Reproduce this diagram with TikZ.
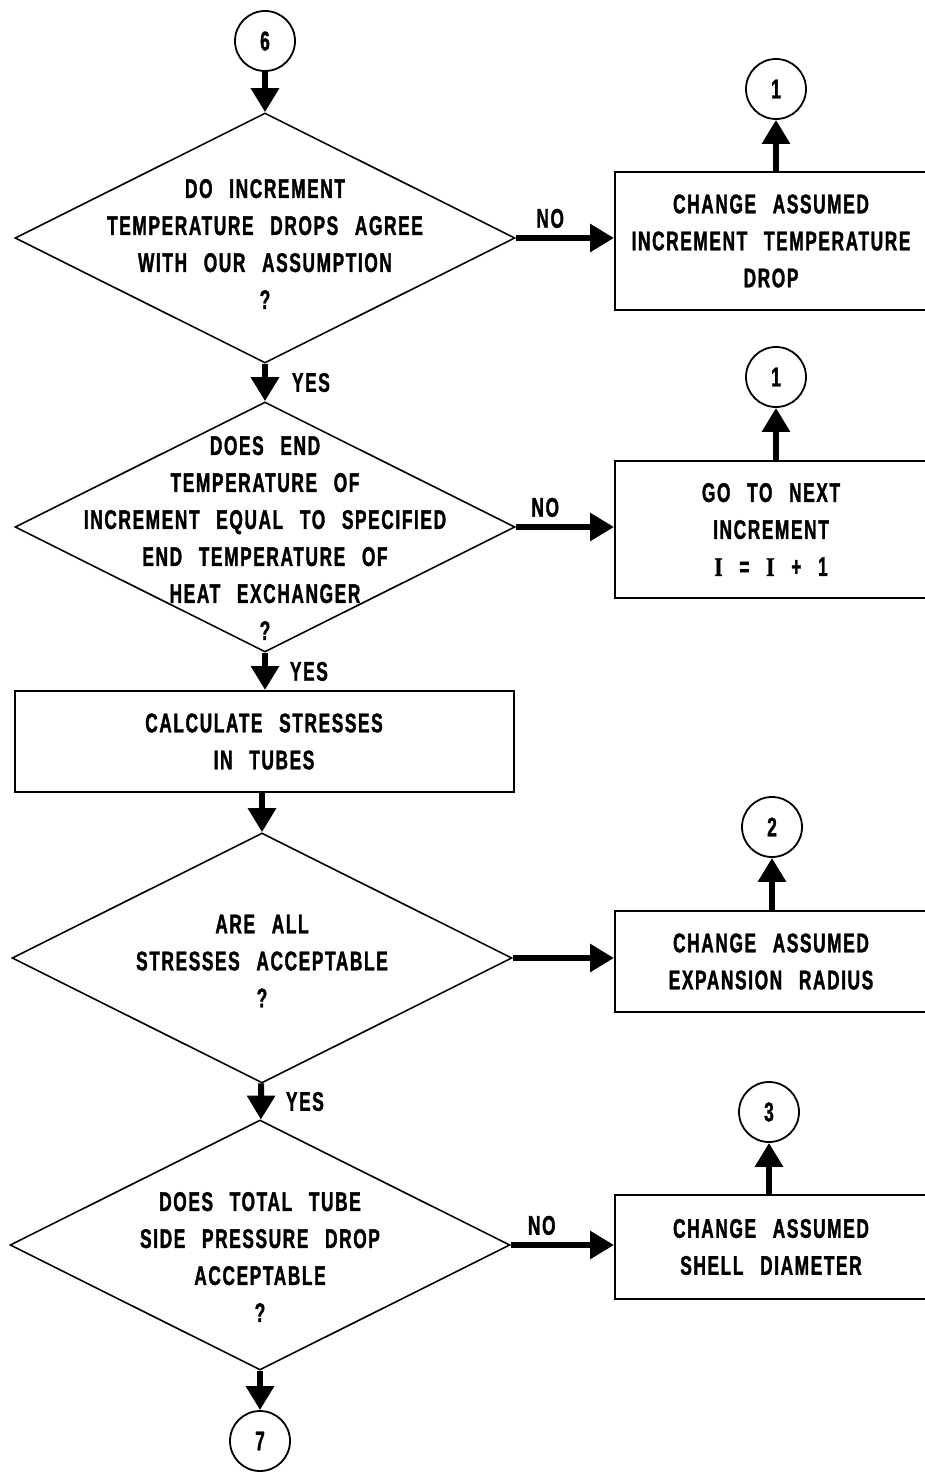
\documentclass[tikz,border=0pt]{standalone}
\usepackage{fontspec}
\usepackage{tikz}
\usetikzlibrary{shapes.geometric,arrows.meta}
\newfontfamily\flowfont{Liberation Sans}[FakeStretch=0.64,LetterSpace=6,WordSpace=2.6,BoldFeatures={FakeBold=1.3}]
\newfontfamily\flowserif{Liberation Serif}[FakeStretch=0.8,BoldFeatures={FakeBold=1.3}]

\begin{document}
\begin{tikzpicture}
	[x=1pt,y=-1pt,
	every node/.style={font=\fontsize{27}{37}\selectfont\flowfont\bfseries,align=center,inner sep=0pt},
	dec/.style={draw,line width=1.6pt,shape=diamond,minimum width=500pt,minimum height=250pt},
	box/.style={draw,line width=2pt,rectangle,minimum width=312pt},
	conn/.style={draw,line width=1.8pt,circle,minimum size=60pt},
	flow/.style={line width=6pt,-{Triangle[length=24pt,width=27pt]}}]
	\useasboundingbox (0,0) rectangle (924,1472);
	\node[conn] (c6) at (265,41) {6};
	\node[dec] (d1) at (265,238) {};
	\node (q1) at (265,244) {DO INCREMENT\\TEMPERATURE DROPS AGREE\\WITH OUR ASSUMPTION\\?};
	\node[box,minimum height=138pt] (b1) at (771,241) {CHANGE ASSUMED\\INCREMENT TEMPERATURE\\DROP};
	\node[conn] (c1a) at (776,89) {1};
	\node[dec] (d2) at (265,527) {};
	\node (q2) at (265,538) {DOES END\\TEMPERATURE OF\\INCREMENT EQUAL TO SPECIFIED\\END TEMPERATURE OF\\HEAT EXCHANGER\\?};
	\node[box,minimum height=137pt] (b2) at (771,529.5) {GO TO NEXT\\INCREMENT\\{\flowserif I} = {\flowserif I} + 1};
	\node[conn] (c1b) at (776,377) {1};
	\node[box,minimum width=499pt,minimum height=101pt] (b0) at (264,741.5) {CALCULATE STRESSES\\IN TUBES};
	\node[dec] (d3) at (262,958) {};
	\node (q3) at (262,961) {ARE ALL\\STRESSES ACCEPTABLE\\?};
	\node[box,minimum height=101pt] (b3) at (771,961.5) {CHANGE ASSUMED\\EXPANSION RADIUS};
	\node[conn] (c2) at (772,827) {2};
	\node[dec] (d4) at (260,1245) {};
	\node (q4) at (260,1257) {DOES TOTAL TUBE\\SIDE PRESSURE DROP\\ACCEPTABLE\\?};
	\node[box,minimum height=104pt] (b4) at (771,1247) {CHANGE ASSUMED\\SHELL DIAMETER};
	\node[conn] (c3) at (769,1112) {3};
	\node[conn] (c7) at (260,1441) {7};
	\draw[flow] (c6) -- (d1);
	\draw[flow] (d1.east) -- (d1.east -| b1.west) node[pos=0.35,above=7pt] {NO};
	\draw[flow] (c1a |- b1.north) -- (c1a);
	\draw[flow] (d1) -- (d2) node[midway,right=24pt] {YES};
	\draw[flow] (d2.east) -- (d2.east -| b2.west) node[pos=0.3,above=7pt] {NO};
	\draw[flow] (c1b |- b2.north) -- (c1b);
	\draw[flow] (d2.south) -- (d2.south |- b0.north) node[midway,right=22pt] {YES};
	\draw[flow] (b0.south -| d3) -- (d3);
	\draw[flow] (d3.east) -- (d3.east -| b3.west);
	\draw[flow] (c2 |- b3.north) -- (c2);
	\draw[flow] (d3) -- (d4) node[midway,right=22pt] {YES};
	\draw[flow] (d4.east) -- (d4.east -| b4.west) node[pos=0.3,above=7pt] {NO};
	\draw[flow] (c3 |- b4.north) -- (c3);
	\draw[flow] (d4) -- (c7);
\end{tikzpicture}
\end{document}
